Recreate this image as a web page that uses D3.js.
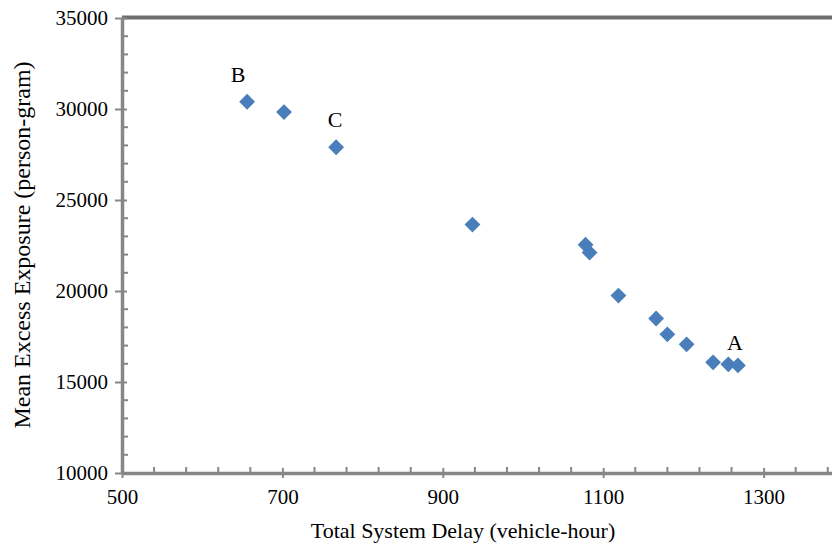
<!DOCTYPE html>
<html>
<head>
<meta charset="utf-8">
<script src="https://cdn.jsdelivr.net/npm/d3@7"></script>
<style>
  body { margin: 0; background: #fff; }
  svg { display: block; }
  text { font-family: "Liberation Serif", "Times New Roman", serif; fill: #000; }
</style>
</head>
<body>
<div id="chart"></div>
<script>
// Data
const delay = [656, 702, 767, 937, 1078, 1083, 1119, 1166, 1180, 1204, 1237, 1256, 1268];
const exposure = [30400, 29830, 27900, 23650, 22540, 22110, 19750, 18490, 17620, 17070, 16080, 15970, 15910];
const pointLabels = [
    { idx: 0, text: "B" },
    { idx: 2, text: "C" },
    { idx: 12, text: "A" }
];
const xTicks = [500, 700, 900, 1100, 1300];
const yTicks = [10000, 15000, 20000, 25000, 30000, 35000];

const width = 832, height = 546;
const margin = { left: 122, top: 18, bottom: 73 };

const svg = d3.select("#chart").append("svg")
    .attr("width", width)
    .attr("height", height);

// plot continues past the right edge of the picture
const x = d3.scaleLinear().domain([500, 1400]).range([margin.left, margin.left + 0.802 * 900]);
const y = d3.scaleLinear().domain([10000, 35000]).range([height - margin.bottom, margin.top]);

const axisColor = "#878787";

// top frame line
svg.append("line")
    .attr("x1", margin.left).attr("x2", width)
    .attr("y1", y(35000) - 0.5).attr("y2", y(35000) - 0.5)
    .attr("stroke", "#6e6e6e").attr("stroke-width", 4);

// minor ticks x (pointing up)
const xMinor = d3.range(540, 1400, 40).filter(v => !xTicks.includes(v));
svg.append("g").selectAll("line").data(xMinor).join("line")
    .attr("x1", d => x(d)).attr("x2", d => x(d))
    .attr("y1", y(10000) - 6).attr("y2", y(10000))
    .attr("stroke", axisColor).attr("stroke-width", 2);

// minor ticks y (pointing right)
const yMinor = d3.range(11000, 35000, 1000).filter(v => !yTicks.includes(v));
svg.append("g").selectAll("line").data(yMinor).join("line")
    .attr("x1", x(500)).attr("x2", x(500) + 6)
    .attr("y1", d => y(d)).attr("y2", d => y(d))
    .attr("stroke", axisColor).attr("stroke-width", 2);

// x axis
const gx = svg.append("g")
    .attr("transform", `translate(0,${y(10000)})`)
    .call(d3.axisBottom(x).tickValues(xTicks).tickSize(5).tickPadding(11).tickSizeOuter(0).tickFormat(d3.format("d")));
gx.attr("font-family", null).attr("font-size", null);
gx.select(".domain").attr("stroke", axisColor).attr("stroke-width", 3.5);
gx.selectAll(".tick line").attr("stroke", axisColor).attr("stroke-width", 2).attr("y1", -5);
gx.selectAll(".tick text").attr("font-size", 21);

// y axis
const gy = svg.append("g")
    .attr("transform", `translate(${x(500)},0)`)
    .call(d3.axisLeft(y).tickValues(yTicks).tickSize(7).tickPadding(7).tickSizeOuter(0).tickFormat(d3.format("d")));
gy.attr("font-family", null).attr("font-size", null);
gy.select(".domain").attr("stroke", axisColor).attr("stroke-width", 3.5);
gy.selectAll(".tick line").attr("stroke", axisColor).attr("stroke-width", 2).attr("x1", 5);
gy.selectAll(".tick text").attr("font-size", 21);

// axis titles
svg.append("text")
    .attr("x", 463).attr("y", 538)
    .attr("text-anchor", "middle")
    .attr("font-size", 22)
    .text("Total System Delay (vehicle-hour)");

svg.append("text")
    .attr("transform", `translate(30,245) rotate(-90)`)
    .attr("text-anchor", "middle")
    .attr("font-size", 24)
    .text("Mean Excess Exposure (person-gram)");

// points
const points = delay.map((d, i) => ({ x: d, y: exposure[i] }));
const diamond = d3.symbol().type(d3.symbolSquare).size(125);
svg.append("g").selectAll("path").data(points).join("path")
    .attr("d", diamond)
    .attr("transform", d => `translate(${x(d.x)},${y(d.y)}) rotate(45)`)
    .attr("fill", "#4a7ebb");

// point labels
svg.append("g").selectAll("text").data(pointLabels).join("text")
    .attr("x", d => x(delay[d.idx]) + (d.text === "B" ? -9 : (d.text === "A" ? -3 : -1)))
    .attr("y", d => y(exposure[d.idx]) - (d.text === "A" ? 15 : 20))
    .attr("text-anchor", "middle")
    .attr("font-size", 22)
    .text(d => d.text);
</script>
</body>
</html>
